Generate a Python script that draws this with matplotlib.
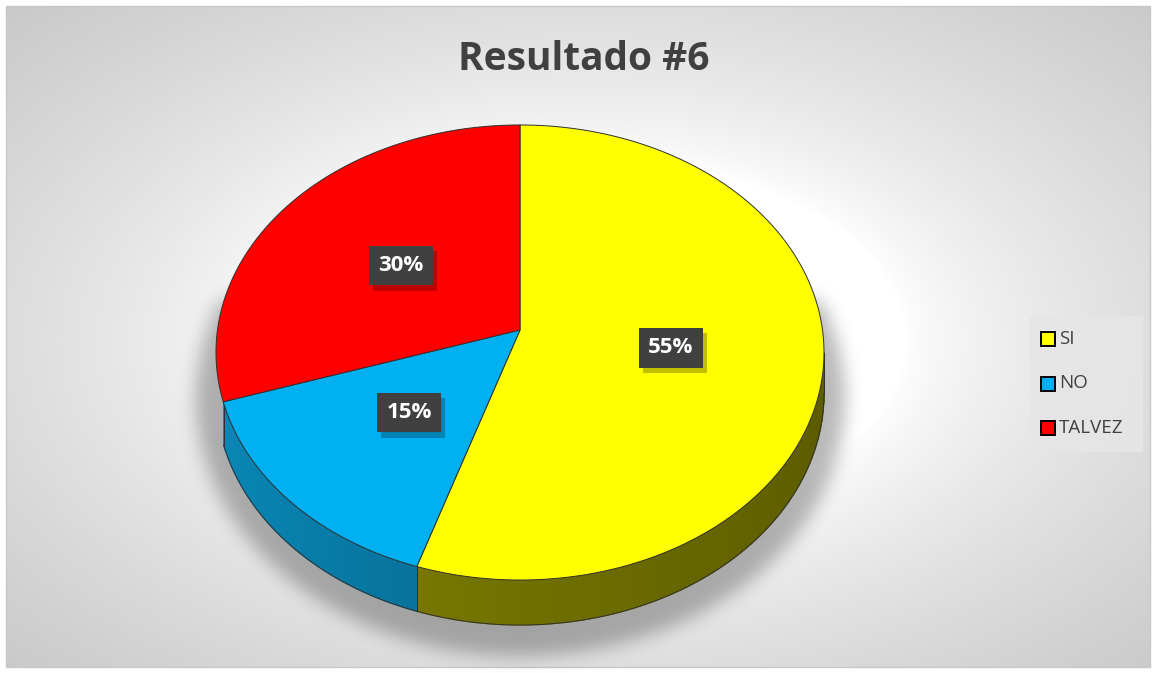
import numpy as np
import matplotlib
matplotlib.use("Agg")
import matplotlib.pyplot as plt
import matplotlib.patheffects as pe
from matplotlib.patches import Polygon, Rectangle

# ---- data ----
categories = ["SI", "NO", "TALVEZ"]
values = [55, 15, 30]
colors = ["#FFFF00", "#00B0F0", "#FF0000"]
side_light = ["#858500", "#0a88b8", "#b00000"]
side_dark = ["#5c5c00", "#004a66", "#800000"]
title = "Resultado #6"

W, H = 1155, 673
fig = plt.figure(figsize=(W / 100, H / 100), dpi=100)
ax = fig.add_axes([0, 0, 1, 1])
ax.set_xlim(0, W)
ax.set_ylim(H, 0)
ax.axis("off")

# background: white page + radial gradient chart area
fig.patch.set_facecolor("white")
x0, x1, y0, y1 = 6, 1150, 6, 667
yy, xx = np.mgrid[y0:y1, x0:x1].astype(float)
d = np.sqrt(((xx - 590) / 572.0) ** 2 + ((yy - 340) / 330.0) ** 2)
g = 1 - 0.23 * np.clip(d - 0.55, 0, None) ** 0.7
g = np.clip(g, 0, 1)
img = np.dstack([g, g, g])
ax.imshow(img, extent=(x0, x1, y1, y0), zorder=0, interpolation="bilinear")
ax.add_patch(Rectangle((x0, y0), x1 - x0, y1 - y0, fill=False, ec="#c8c8c8", lw=1, zorder=1))

# pie geometry (perspective-projected disk)
cx, apex_y, A, B, p, depth = 520, 330, 302.5, 225.3, 0.0989, 45


def proj(r, t, dz=0.0):
    s = r * np.sin(t)
    X = r * np.cos(t)
    f = 1.0 / (1.0 + p * s)
    return cx + A * X * f, apex_y - B * s * f + dz * f * (1 - p)


# soft shadow (blurred silhouette, offset downward)
sy, sx = np.mgrid[0:H, 0:W].astype(float)
sd = ((sx - cx) / (A + 22)) ** 2 + ((sy - 398) / (B + 32)) ** 2
mask = (sd <= 1).astype(float)
mask[sy < 300] = 0


def blur(m, sigma):
    r = int(3 * sigma)
    k = np.exp(-0.5 * (np.arange(-r, r + 1) / sigma) ** 2)
    k /= k.sum()
    m = np.apply_along_axis(lambda v: np.convolve(v, k, mode="same"), 1, m)
    m = np.apply_along_axis(lambda v: np.convolve(v, k, mode="same"), 0, m)
    return m


alpha = blur(mask, 9) * 0.28
shadow = np.zeros((H, W, 4))
shadow[..., 3] = alpha
ax.imshow(shadow, extent=(0, W, H, 0), zorder=1.5, interpolation="bilinear")

total = float(sum(values))
angles = [np.pi / 2]
for v in values:
    angles.append(angles[-1] - 2 * np.pi * v / total)


def mix(c1, c2, f):
    c1 = np.array(matplotlib.colors.to_rgb(c1))
    c2 = np.array(matplotlib.colors.to_rgb(c2))
    return tuple(c1 * (1 - f) + c2 * f)


vis_lo, vis_hi = -np.pi + 0.32, -np.arcsin(p)

# side faces
for i in range(len(values)):
    lo, hi = angles[i + 1], angles[i]
    for shift in (0, -2 * np.pi, 2 * np.pi):
        l2, h2 = lo + shift, hi + shift
        s0, s1 = max(l2, vis_lo), min(h2, vis_hi)
        if s1 <= s0:
            continue
        ts = np.linspace(s0, s1, 90)
        for k in range(len(ts) - 1):
            ta, tb = ts[k], ts[k + 1]
            f = (np.cos((ta + tb) / 2) + 1) / 2
            col = mix(side_light[i], side_dark[i], f)
            pa, pb = proj(1, ta), proj(1, tb)
            pa2, pb2 = proj(1, ta, depth), proj(1, tb, depth)
            ax.add_patch(Polygon([pa, pb, pb2, pa2], closed=True, fc=col, ec=col,
                                 lw=0.9, zorder=2))
        tt = np.linspace(s0, s1, 200)
        xs, ys = proj(1, tt, depth)
        ax.plot(xs, ys, color="#303030", lw=0.7, zorder=3)
        for te in (s0, s1):
            xa, ya = proj(1, te)
            xb, yb = proj(1, te, depth)
            ax.plot([xa, xb], [ya, yb], color="#303030", lw=0.7, zorder=3)

# top faces
for i in range(len(values)):
    tt = np.linspace(angles[i], angles[i + 1], 300)
    xs, ys = proj(1, tt)
    poly = [proj(0, 0)] + list(zip(xs, ys))
    ax.add_patch(Polygon(poly, closed=True, fc=colors[i], ec="#303030", lw=0.7, zorder=4))

# labels
for i, v in enumerate(values):
    tm = (angles[i] + angles[i + 1]) / 2
    lx, ly = proj(0.5, tm)
    t = ax.text(lx, ly, f"{v}%", ha="center", va="center", color="white",
                fontsize=16, fontweight="bold", family="Open Sans", zorder=6,
                bbox=dict(boxstyle="square,pad=0.42", fc="#404040", ec="none"))
    t.get_bbox_patch().set_path_effects(
        [pe.SimplePatchShadow(offset=(3, -4), shadow_rgbFace="black", alpha=0.25), pe.Normal()])

# title
ax.text(584, 59, title, ha="center", va="center", fontsize=28, fontweight="bold",
        family="Open Sans", color="#404040", zorder=6)

# legend
ax.add_patch(Rectangle((1030, 316), 113, 136, fc="#e6e6e6", ec="none", alpha=0.85, zorder=5))
for i, c in enumerate(categories):
    y = 339 + 44.5 * i
    ax.add_patch(Rectangle((1041, y - 7), 14, 14, fc=colors[i], ec="black", lw=1.4, zorder=6))
    ax.text(1059, y, c, ha="left", va="center", fontsize=13.5, family="Open Sans",
            color="#404040", zorder=6)

fig.savefig("out.png", dpi=100)
